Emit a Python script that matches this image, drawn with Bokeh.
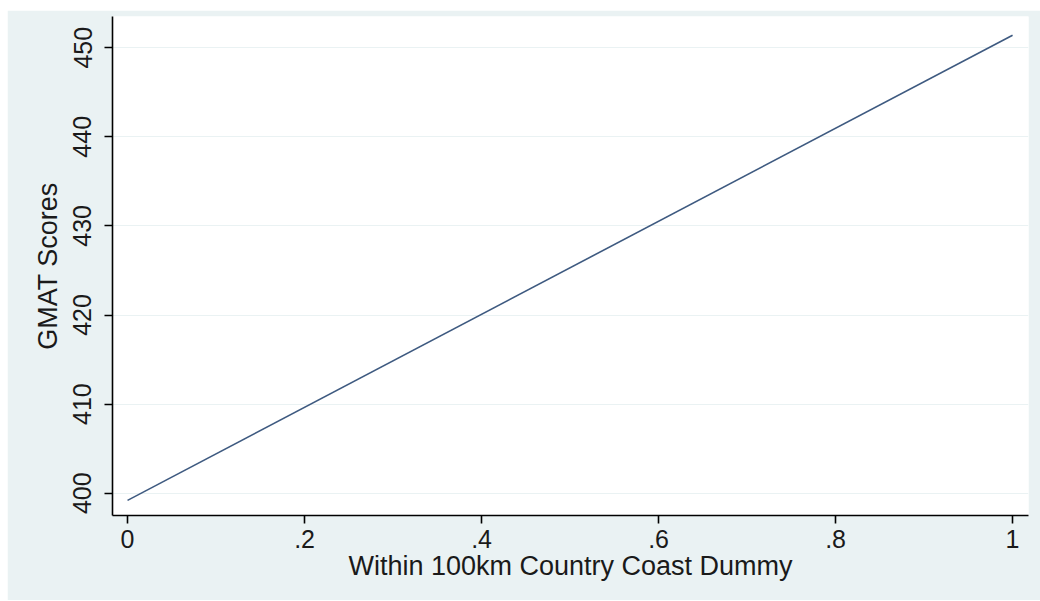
from bokeh.plotting import figure
from bokeh.models import FixedTicker, Range1d
from bokeh.embed import file_html
from bokeh.resources import INLINE

x_vals = [0.0, 1.0]
y_vals = [399.2, 451.4]
x_ticks = [0, 0.2, 0.4, 0.6, 0.8, 1.0]
x_tick_labels = ["0", ".2", ".4", ".6", ".8", "1"]
y_ticks = [400, 410, 420, 430, 440, 450]

BG = "#EAF2F3"
FONT = "Liberation Sans"

p = figure(width=1033, height=590, output_backend="svg", toolbar_location=None,
           x_range=Range1d(-0.017, 1.018), y_range=Range1d(397.5, 453.5),
           min_border_left=105, min_border_right=12, min_border_top=6, min_border_bottom=85)
p.margin = (10, 0, 0, 7)
p.border_fill_color = BG
p.background_fill_color = "white"
p.outline_line_color = None

p.line(x_vals, y_vals, line_color="#3E5A80", line_width=1.6)

p.xaxis.ticker = FixedTicker(ticks=x_ticks)
p.xaxis.major_label_overrides = {t: l for t, l in zip(x_ticks, x_tick_labels)}
p.yaxis.ticker = FixedTicker(ticks=y_ticks)
p.yaxis.major_label_orientation = "vertical"

for ax in (p.xaxis[0], p.yaxis[0]):
    ax.axis_line_color = "black"
    ax.axis_line_width = 1.6
    ax.major_tick_line_color = "black"
    ax.major_tick_line_width = 1.6
    ax.major_tick_out = 8
    ax.major_tick_in = 0
    ax.minor_tick_line_color = None
    ax.major_label_text_font = FONT
    ax.major_label_text_font_size = "25px"
    ax.major_label_text_color = "#1a1a1a"
    ax.axis_label_text_font = FONT
    ax.axis_label_text_font_size = "27px"
    ax.axis_label_text_font_style = "normal"
    ax.axis_label_text_color = "#1a1a1a"

p.xaxis.axis_label = "Within 100km Country Coast Dummy"
p.yaxis.axis_label = "GMAT Scores"
p.xaxis.major_label_standoff = 6
p.xaxis.axis_label_standoff = 0
p.yaxis.major_label_standoff = 13
p.yaxis.axis_label_standoff = 8

p.xgrid.grid_line_color = None
p.ygrid.grid_line_color = BG
p.ygrid.grid_line_width = 1.2

open("out.html", "w").write(file_html(p, INLINE))
